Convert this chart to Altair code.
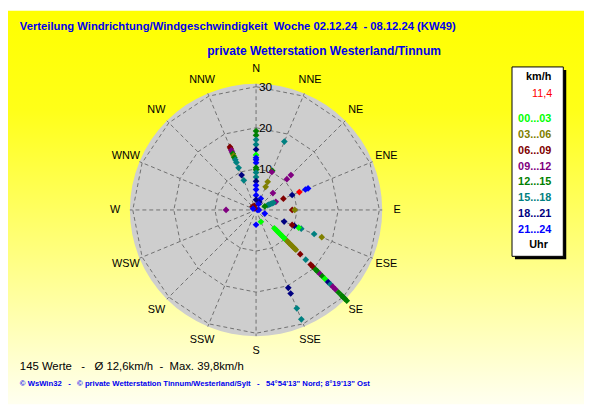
import math
import altair as alt
import pandas as pd

# ---------------- data ----------------
DIR_NAMES = ["N", "NNE", "NE", "ENE", "E", "ESE", "SE", "SSE",
             "S", "SSW", "SW", "WSW", "W", "WNW", "NW", "NNW"]
RINGS = [10, 20, 30]
DISK_R = 30.7
LABEL_R = 34.3

CLASS_LABELS = ["00...03", "03...06", "06...09", "09...12",
                "12...15", "15...18", "18...21", "21...24"]
CLASS_COLORS = ["#00ff00", "#808000", "#800000", "#800080",
                "#008000", "#008080", "#000080", "#0000ff"]

# observations (direction, speed km/h, time class index)
obs_dir = (["N"] * 18 + ["NNW"] * 13 + ["NNE"] * 8 + ["NE"] * 3 + ["ENE"] * 11
           + ["E"] * 4 + ["ESE"] * 8 + ["SE"] * 34 + ["SSE"] * 5
           + ["S", "W", "NW", "NW", "WNW"])
obs_speed = [
    # N
    19.2, 18.2, 17.1, 15.9, 14.7, 13.4, 12.7, 12.2, 11.5, 10.3, 9.8, 9.1, 8.0, 7.0, 6.0, 5.0, 3.6, 2.5,
    # NNW
    16.6, 16.2, 15.7, 15.3, 14.8, 14.3, 13.8, 13.2, 12.5, 11.1, 9.2, 7.8, 1.1,
    # NNE
    18.0, 10.3, 10.0, 7.4, 6.1, 3.0, 2.1, 1.6,
    # NE
    12.0, 10.6, 5.8,
    # ENE
    13.7, 13.0, 9.5, 7.2, 5.2, 4.6, 4.2, 3.8, 3.4, 3.0, 2.3,
    # E
    8.8, 9.4, 0.7, 0.3,
    # ESE
    17.3, 15.3, 11.9, 11.2, 10.1, 9.5, 7.4, 2.3,
    # SE
    6.3, 6.8, 7.3, 7.8, 8.3, 8.8, 9.3, 9.8, 10.3,
    10.8, 11.3, 11.8, 12.3, 12.8, 13.3, 13.7,
    15.2, 17.1, 18.8, 19.6, 20.5, 21.1, 22.0, 22.8, 23.7, 24.8, 25.6, 26.4, 27.3,
    28.4, 29.5, 30.0, 30.5, 31.2,
    # SSE
    28.8, 25.9, 22.0, 20.5, 3.1,
    # S, W, NW, NW, WNW
    3.6, 7.3, 1.2, 0.5, 0.8,
]
obs_cls = [
    4, 4, 5, 5, 6, 0, 7, 7, 7, 4, 4, 5, 5, 6, 7, 7, 7, 6,
    2, 2, 3, 3, 4, 1, 4, 5, 5, 5, 6, 5, 2,
    5, 4, 3, 1, 1, 7, 6, 7,
    3, 3, 3,
    7, 7, 6, 2, 3, 5, 5, 5, 5, 5, 4,
    2, 1, 7, 7,
    1, 5, 5, 0, 6, 2, 6, 7,
    0, 0, 0, 0, 0, 0, 0, 0, 0,
    1, 1, 1, 1, 1, 1, 1,
    2, 5, 2, 2, 4, 4, 3, 4, 0, 6, 5, 3, 3,
    4, 4, 4, 4, 4,
    5, 5, 6, 6, 0,
    7, 3, 2, 2, 7,
]
CURRENT_DIR = "ENE"
CURRENT_SPEED = 11.4

NB = "\u00a0"
TITLE = "Verteilung Windrichtung/Windgeschwindigkeit  Woche 02.12.24  - 08.12.24 (KW49)".replace(" ", NB)
SUBTITLE = "private Wetterstation Westerland/Tinnum"
STATS = "145 Werte   -   Ø 12,6km/h  -  Max. 39,8km/h".replace(" ", NB)
FOOTER = "© WsWin32   -   © private Wetterstation Tinnum/Westerland/Sylt   -   54°54'13\" Nord; 8°19'13\" Ost".replace(" ", NB)

# ---------------- layout ----------------
W, H = 584, 399
CX, CY = 251.5, 202.0
K = 125.0 / 30.0
xs = alt.Scale(domain=[-CX / K, (W - CX) / K], nice=False, zero=False)
ys = alt.Scale(domain=[-(H - CY) / K, CY / K], nice=False, zero=False)
FONT = "Liberation Sans"

ang = {n: i * 22.5 for i, n in enumerate(DIR_NAMES)}

obs = pd.DataFrame({
    "deg": [ang[d] for d in obs_dir],
    "speed": obs_speed,
    "cls": [CLASS_LABELS[c] for c in obs_cls],
})
cur = pd.DataFrame({"deg": [ang[CURRENT_DIR]], "speed": [CURRENT_SPEED]})
spokes = pd.DataFrame({"deg": [ang[n] for n in DIR_NAMES], "r0": 1.5, "r1": DISK_R})
ring_rows = [{"ring": r, "i": i, "deg": (i % 16) * 22.5} for r in RINGS for i in range(17)]
rings = pd.DataFrame(ring_rows)
labels = pd.DataFrame({"name": DIR_NAMES, "deg": [ang[n] for n in DIR_NAMES], "r": LABEL_R})
rlabels = pd.DataFrame({"ring": RINGS, "txt": [str(r) for r in RINGS]})
disk = pd.DataFrame({"r": [DISK_R]})

XE = "datum.{r} * sin(datum.deg * PI / 180)"
YE = "datum.{r} * cos(datum.deg * PI / 180)"

bg = alt.Chart(disk).mark_rect(
    fill=alt.Gradient(
        gradient="linear",
        stops=[alt.GradientStop(offset=0, color="#ffff00"),
               alt.GradientStop(offset=0.25, color="#ffff18"),
               alt.GradientStop(offset=0.62, color="#ffff80"),
               alt.GradientStop(offset=1, color="#fffff0")],
        x1=0, x2=0, y1=0, y2=1),
).encode(x=alt.value(0), x2=alt.value(W), y=alt.value(0), y2=alt.value(H))

disk_layer = alt.Chart(disk).mark_arc(theta=0, theta2=2 * math.pi, fill="#cecece").encode(
    x=alt.X("zx:Q", scale=xs, axis=None),
    y=alt.Y("zy:Q", scale=ys, axis=None),
    radius=alt.Radius("r:Q", scale=alt.Scale(domain=[0, 30], range=[0, 30 * K], zero=True)),
).transform_calculate(zx="0", zy="0")

spoke_layer = alt.Chart(spokes).mark_rule(color="#707070", strokeDash=[4, 3], strokeWidth=1).transform_calculate(
    x0=XE.format(r="r0"), y0=YE.format(r="r0"), x1=XE.format(r="r1"), y1=YE.format(r="r1")
).encode(x=alt.X("x0:Q", scale=xs), y=alt.Y("y0:Q", scale=ys), x2="x1:Q", y2="y1:Q")

ring_layer = alt.Chart(rings).mark_line(color="#707070", strokeDash=[4, 3], strokeWidth=1).transform_calculate(
    px=XE.format(r="ring"), py=YE.format(r="ring")
).encode(x=alt.X("px:Q", scale=xs), y=alt.Y("py:Q", scale=ys), detail="ring:N", order="i:Q")

dir_text = alt.Chart(labels).mark_text(font=FONT, fontSize=11, color="#000000", align="center", baseline="middle").transform_calculate(
    px=XE.format(r="r"), py=YE.format(r="r")
).encode(x=alt.X("px:Q", scale=xs), y=alt.Y("py:Q", scale=ys), text="name:N")

ring_text = alt.Chart(rlabels).mark_text(font=FONT, fontSize=12, color="#000000", align="left", baseline="middle", dx=3).transform_calculate(
    px="0"
).encode(x=alt.X("px:Q", scale=xs), y=alt.Y("ring:Q", scale=ys), text="txt:N")

pts = alt.Chart(obs).mark_point(shape="diamond", filled=True, size=46, opacity=1).transform_calculate(
    px=XE.format(r="speed"), py=YE.format(r="speed")
).encode(
    x=alt.X("px:Q", scale=xs), y=alt.Y("py:Q", scale=ys),
    color=alt.Color("cls:N", scale=alt.Scale(domain=CLASS_LABELS, range=CLASS_COLORS), legend=None),
)

cur_pt = alt.Chart(cur).mark_point(shape="diamond", filled=True, size=46, opacity=1, color="#ff0000").transform_calculate(
    px=XE.format(r="speed"), py=YE.format(r="speed")
).encode(x=alt.X("px:Q", scale=xs), y=alt.Y("py:Q", scale=ys))

def txt(s, x, y, size, color, bold=False, align="left", font=FONT):
    return alt.Chart(disk).mark_text(
        text=s, font=font, fontSize=size, color=color, align=align, baseline="middle",
        fontWeight="bold" if bold else "normal",
    ).encode(x=alt.value(x), y=alt.value(y))

title = txt(TITLE, 12, 17, 11.4, "#0000ee", bold=True)
subtitle = txt(SUBTITLE, 202, 41, 12.2, "#0000ee", bold=True)
stats = txt(STATS, 12, 361, 11.5, "#000000")
footer = txt(FOOTER, 12, 378, 7.8, "#0000ee", bold=True)

# legend box
box_shadow = alt.Chart(disk).mark_rect(fill="#000000").encode(
    x=alt.value(514), x2=alt.value(566), y=alt.value(60), y2=alt.value(252))
box = alt.Chart(disk).mark_rect(fill="#ffffff", stroke="#000000", strokeWidth=1).encode(
    x=alt.value(511), x2=alt.value(563), y=alt.value(57), y2=alt.value(249))
leg = [txt("km/h", 538, 67, 11, "#000000", bold=True, align="center"),
       txt("11,4", 541.5, 84, 11, "#ff0000", align="center"),
       txt("Uhr", 538, 238, 11, "#000000", bold=True, align="center")]
for i, (lab, col) in enumerate(zip(CLASS_LABELS, CLASS_COLORS)):
    leg.append(txt(lab, 534, 110 + 16 * i, 11, col, bold=True, align="center"))

chart = alt.layer(
    bg, disk_layer, spoke_layer, ring_layer, ring_text, dir_text, pts, cur_pt,
    title, subtitle, stats, footer, box_shadow, box, *leg
).properties(width=W, height=H, autosize="none", padding=0).configure_view(strokeWidth=0)

chart.save("out.html", embed_options={"renderer": "svg", "actions": False})
